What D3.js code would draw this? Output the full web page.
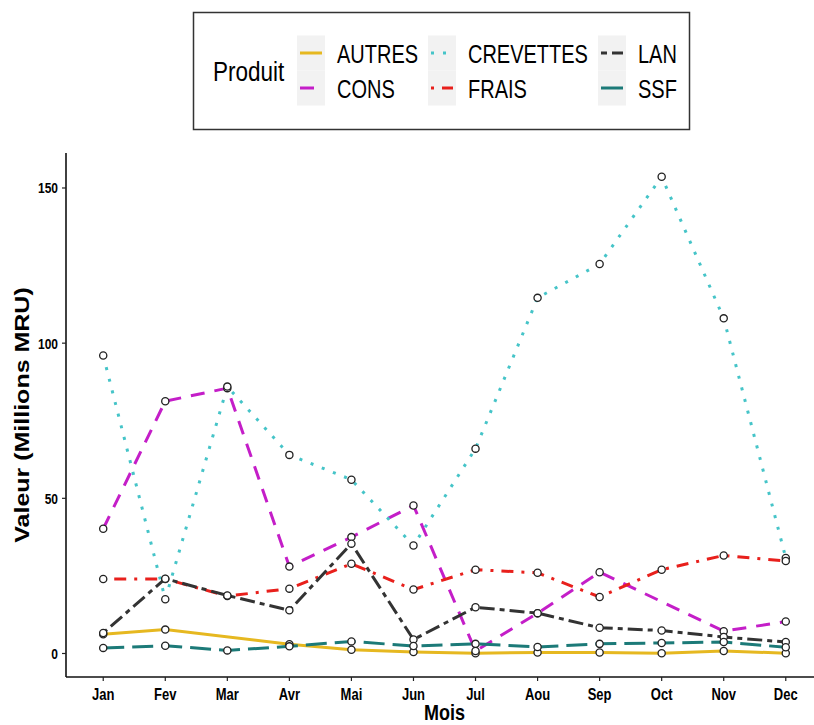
<!DOCTYPE html>
<html><head><meta charset="utf-8">
<script src="https://cdn.jsdelivr.net/npm/d3@7"></script>
<style>body{margin:0;background:#fff} svg{display:block} text{font-family:"Liberation Sans",Arial,sans-serif}</style>
</head><body><svg id="c" width="814" height="725"></svg>
<script>
// ---- data ----
const months = ["Jan","Fev","Mar","Avr","Mai","Jun","Jul","Aou","Sep","Oct","Nov","Dec"];
const products = ["AUTRES","CONS","CREVETTES","FRAIS","LAN","SSF"];
const autres    = [6.2, 7.7, null, 3.0, 1.2, 0.5, 0.1, 0.3, 0.3, 0.1, 0.8, 0.1];
const cons      = [40.2, 81.3, 85.5, 28.0, 37.5, 47.7, 0.8, 13.0, 26.2, null, 7.2, 10.3];
const crevettes = [96.0, 17.5, 86.0, 64.0, 56.0, 34.8, 66.0, 114.6, 125.5, 153.6, 108.0, 30.8];
const frais     = [24.0, 24.0, 18.5, 20.9, 28.9, 20.6, 27.0, 26.0, 18.2, 27.0, 31.6, 29.8];
const lan       = [6.6, 24.1, 18.7, 13.9, 35.4, 4.5, 14.9, 13.0, 8.3, 7.4, 5.3, 3.7];
const ssf       = [1.8, 2.5, 1.0, 2.3, 3.9, 2.4, 3.1, 2.1, 3.1, 3.4, 3.7, 2.0];
const yTicks = [0, 50, 100, 150];
const legendTitle = "Produit";
const xTitle = "Mois";
const yTitle = "Valeur (Millions MRU)";

const seriesValues = {AUTRES: autres, CONS: cons, CREVETTES: crevettes, FRAIS: frais, LAN: lan, SSF: ssf};
const colors = {AUTRES:"#E6B820", CONS:"#C41EC8", CREVETTES:"#45C4C8", FRAIS:"#E8201C", LAN:"#333333", SSF:"#1C7A78"};
const dashes = {AUTRES:null, CONS:"14,10", CREVETTES:"3,9", FRAIS:"3,8,12,8", LAN:"5,5,15,5", SSF:"21,8"};
const legendDash = {AUTRES:null, CONS:"14,10", CREVETTES:"3,9", FRAIS:"3,8,12,8", LAN:"6,5,15,5", SSF:null};

const svg = d3.select("#c");
const SY = 1.25; // vertical stretch of glyphs in reference

function txt(g, x, y, s, size, weight, anchor, extra) {
  return g.append("text")
    .attr("transform", `translate(${x},${y}) ` + (extra || `scale(1,${SY})`))
    .attr("font-size", size).attr("font-weight", weight || "normal")
    .attr("text-anchor", anchor || "start").attr("fill", "#000").text(s);
}

// ---- scales ----
const pL = 66, pR = 823, pT = 153, pB = 677;
const x = d3.scalePoint().domain(months).range([pL, pR]).padding(0.6);
const all = products.flatMap(p => seriesValues[p]).filter(v => v != null);
const [mn, mx] = d3.extent(all);
const pad = (mx - mn) * 0.05;
const y = d3.scaleLinear().domain([mn - pad, mx + pad]).range([pB, pT]);

// ---- axes ----
const ax = svg.append("g");
ax.append("line").attr("x1", pL).attr("x2", pL).attr("y1", pT).attr("y2", pB)
  .attr("stroke", "#111").attr("stroke-width", 1.6);
ax.append("line").attr("x1", pL).attr("x2", pR).attr("y1", pB).attr("y2", pB)
  .attr("stroke", "#111").attr("stroke-width", 1.6);
yTicks.forEach(t => {
  ax.append("line").attr("x1", pL - 4).attr("x2", pL).attr("y1", y(t)).attr("y2", y(t))
    .attr("stroke", "#222").attr("stroke-width", 1.2);
  txt(ax, pL - 8, y(t) + 5.5, String(t), 12, "bold", "end");
});
months.forEach(m => {
  ax.append("line").attr("x1", x(m)).attr("x2", x(m)).attr("y1", pB).attr("y2", pB + 4)
    .attr("stroke", "#222").attr("stroke-width", 1.2);
  txt(ax, x(m), 700, m, 13, "bold", "middle");
});
txt(ax, (pL + pR) / 2, 720, xTitle, 18, "bold", "middle");
txt(ax, 29, (pT + pB) / 2, yTitle, 20, "bold", "middle", `rotate(-90) scale(${SY},1)`);

// ---- lines ----
const line = d3.line().x(d => x(d.m)).y(d => y(d.v));
products.forEach(p => {
  const data = months.map((m, i) => ({m, v: seriesValues[p][i]})).filter(d => d.v != null);
  svg.append("path").datum(data).attr("d", line)
    .attr("fill", "none").attr("stroke", colors[p]).attr("stroke-width", 3)
    .attr("stroke-dasharray", dashes[p]);
});
// ---- points ----
products.forEach(p => {
  const data = months.map((m, i) => ({m, v: seriesValues[p][i]})).filter(d => d.v != null);
  svg.append("g").selectAll("circle").data(data).join("circle")
    .attr("cx", d => x(d.m)).attr("cy", d => y(d.v)).attr("r", 3.6)
    .attr("fill", "white").attr("stroke", "#222").attr("stroke-width", 1.3);
});

// ---- legend ----
const lg = svg.append("g");
lg.append("rect").attr("x", 193.5).attr("y", 12.5).attr("width", 496).attr("height", 117)
  .attr("fill", "white").attr("stroke", "#333").attr("stroke-width", 1.5);
txt(lg, 213, 81, legendTitle, 22.5, "normal", "start");
const colKeyX = [297, 428, 598];
const colLabX = [337, 468, 638];
const rowY = [53, 88];
const order = [["AUTRES","CREVETTES","LAN"],["CONS","FRAIS","SSF"]];
order.forEach((row, r) => row.forEach((p, c) => {
  lg.append("rect").attr("x", colKeyX[c]).attr("y", rowY[r] - 17.5).attr("width", 28).attr("height", 35)
    .attr("fill", "#F2F2F2");
  lg.append("line").attr("x1", colKeyX[c] + 3).attr("x2", colKeyX[c] + 25)
    .attr("y1", rowY[r]).attr("y2", rowY[r])
    .attr("stroke", colors[p]).attr("stroke-width", 3).attr("stroke-dasharray", legendDash[p]);
  txt(lg, colLabX[c], rowY[r] + 10, p, 20, "normal", "start");
}));
</script></body></html>
